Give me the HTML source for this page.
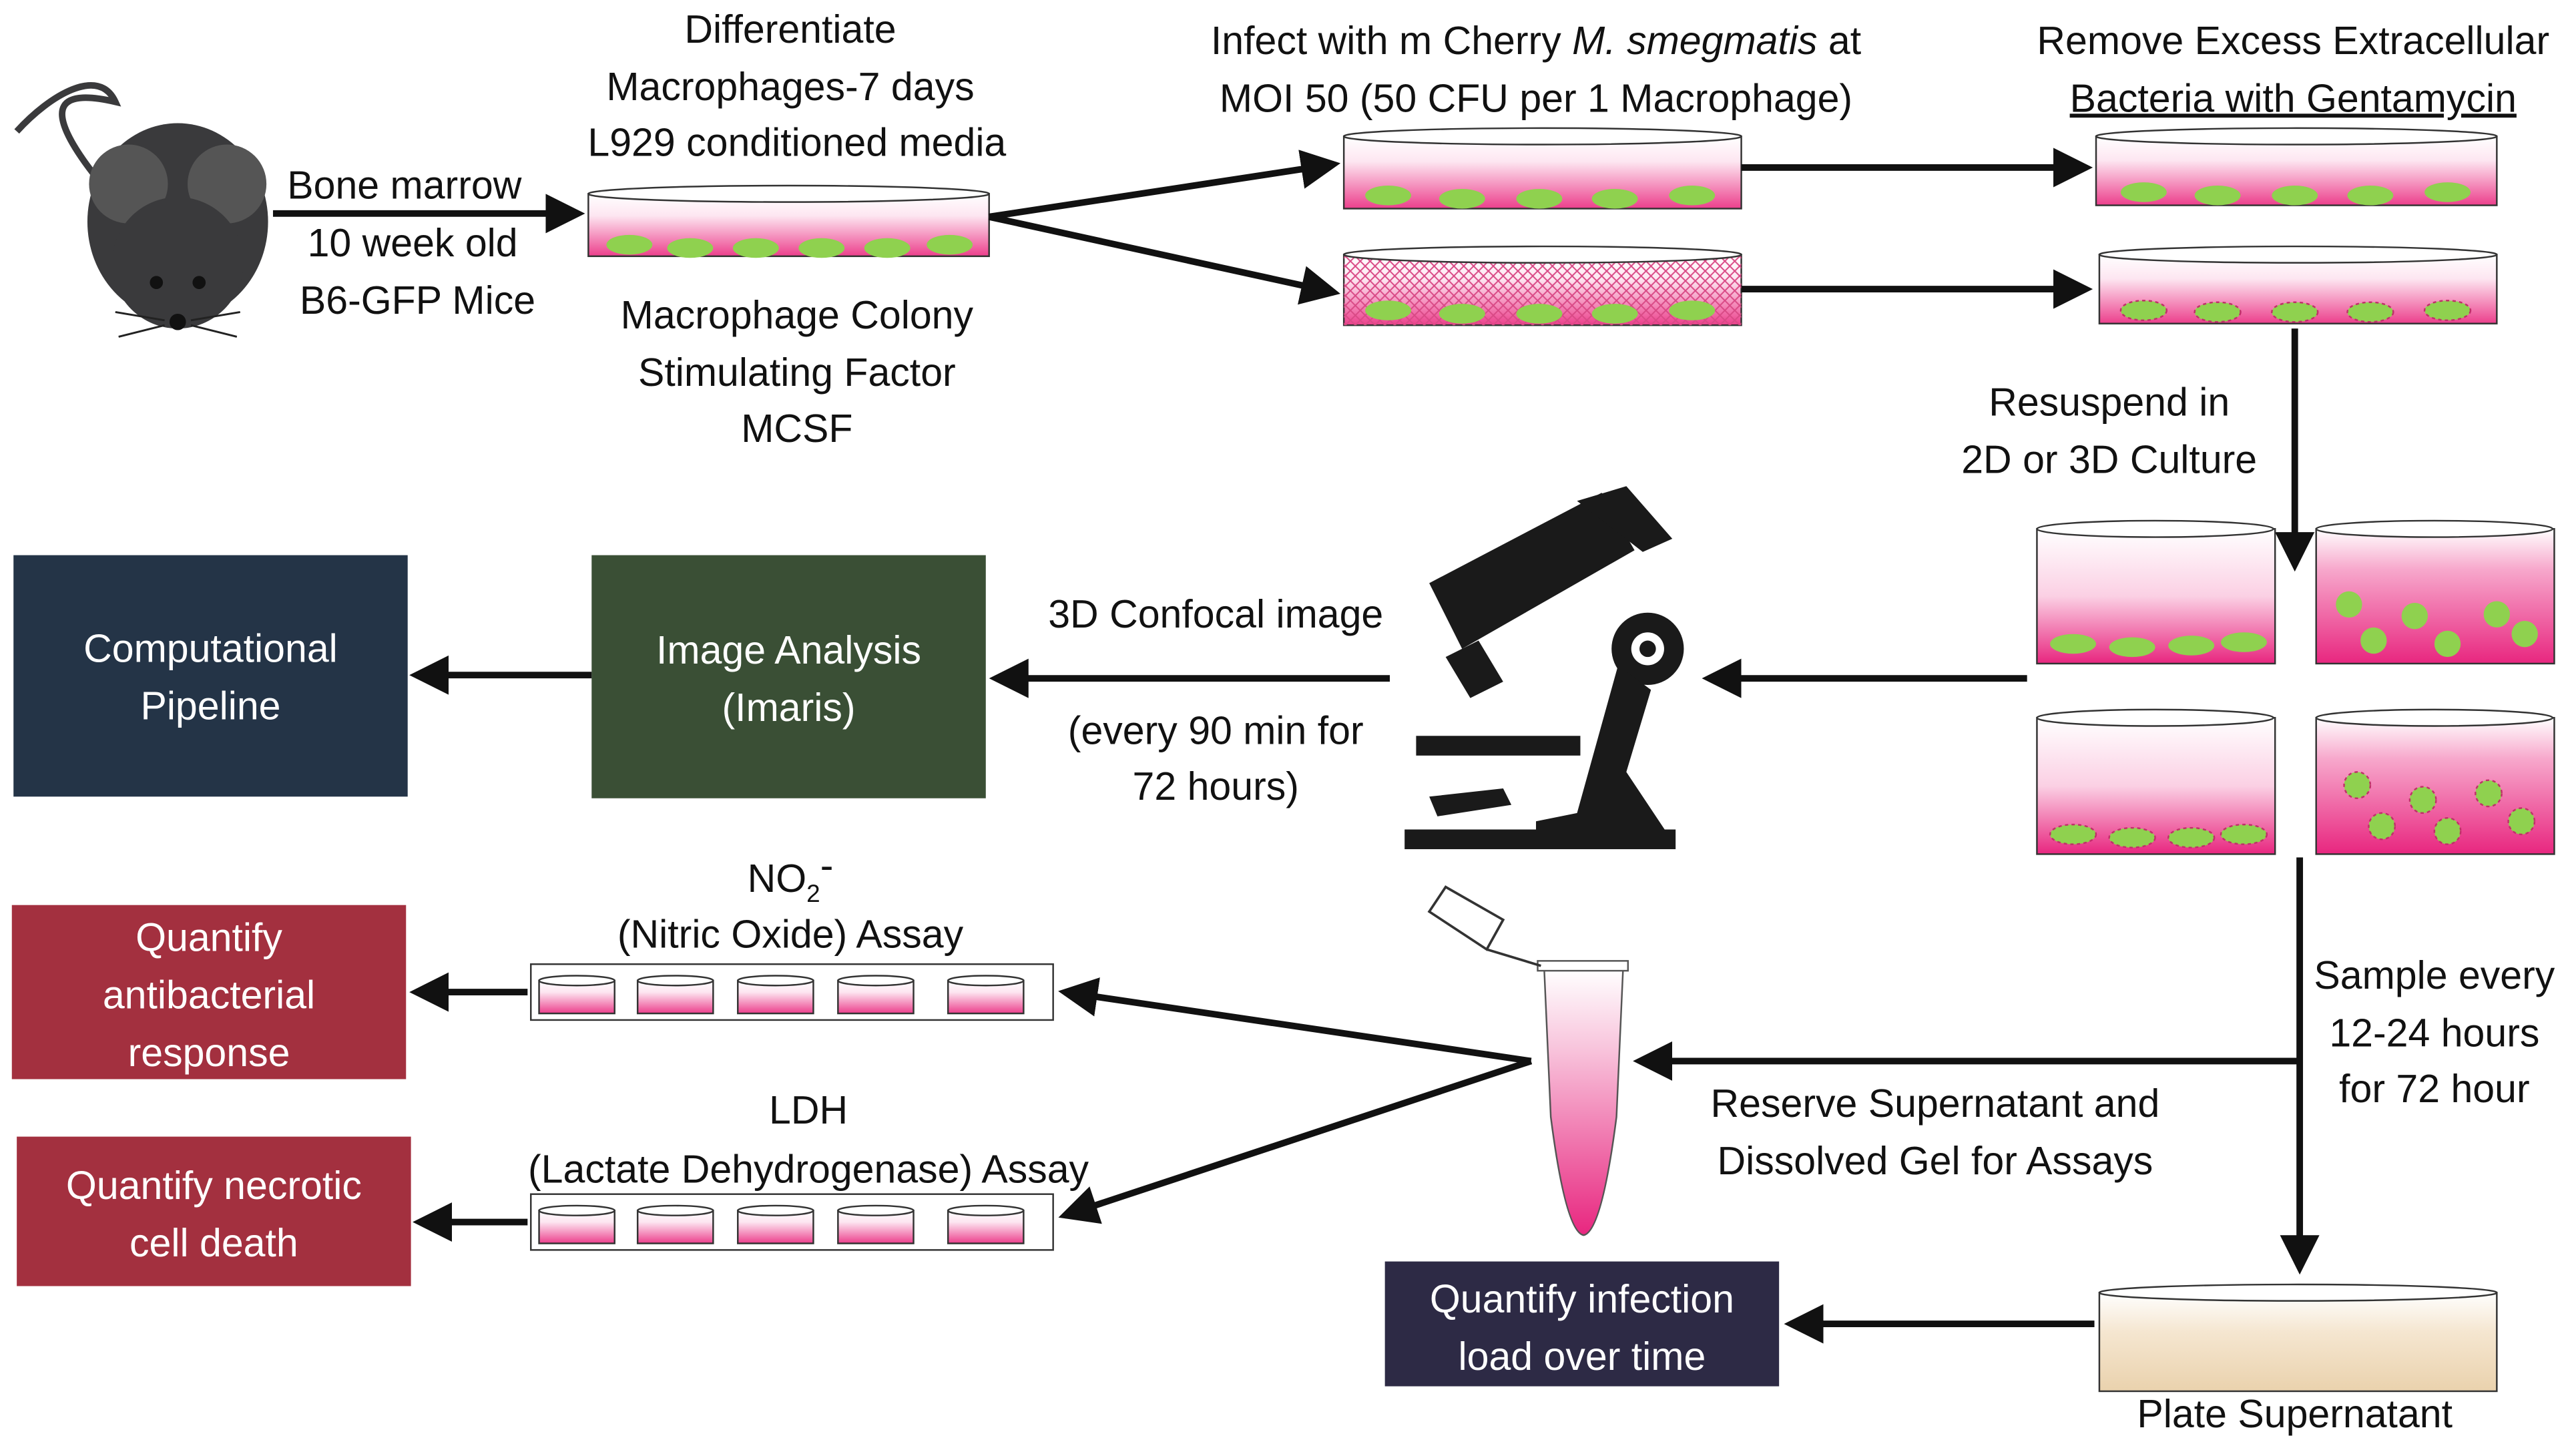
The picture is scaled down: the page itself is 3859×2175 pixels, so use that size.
<!DOCTYPE html>
<html><head><meta charset="utf-8"><style>
html,body{margin:0;padding:0;background:#fff;}
svg{display:block;}
text{font-family:"Liberation Sans",sans-serif;font-size:24px;fill:#111;}
.w{fill:#fff;}
</style></head><body>
<svg width="3859" height="2175" viewBox="0 0 1568 884" xmlns="http://www.w3.org/2000/svg">
<defs>
<linearGradient id="pk" x1="0" y1="0" x2="0" y2="1"><stop offset="0" stop-color="#fff"/><stop offset="0.35" stop-color="#fde6f1"/><stop offset="1" stop-color="#ec3f8c"/></linearGradient>
<linearGradient id="pk2" x1="0" y1="0" x2="0" y2="1"><stop offset="0" stop-color="#fff"/><stop offset="0.5" stop-color="#fbd0e4"/><stop offset="1" stop-color="#e8267f"/></linearGradient>
<linearGradient id="pk3" x1="0" y1="0" x2="0" y2="1"><stop offset="0" stop-color="#fff"/><stop offset="0.3" stop-color="#f7a8cc"/><stop offset="1" stop-color="#e8267f"/></linearGradient>
<linearGradient id="tan" x1="0" y1="0" x2="0" y2="1"><stop offset="0" stop-color="#fff"/><stop offset="0.4" stop-color="#f5e6d0"/><stop offset="1" stop-color="#ead2ad"/></linearGradient>
<linearGradient id="tube" x1="0" y1="0" x2="0" y2="1"><stop offset="0" stop-color="#fff"/><stop offset="0.3" stop-color="#f8c4dc"/><stop offset="1" stop-color="#e8267f"/></linearGradient>
<pattern id="mesh" width="6" height="6" patternUnits="userSpaceOnUse"><path d="M0 3 L3 0 L6 3 L3 6Z" fill="none" stroke="#d94a86" stroke-width="0.8"/></pattern>
<marker id="ah" markerWidth="6" markerHeight="6" refX="5" refY="3" orient="auto" markerUnits="strokeWidth"><path d="M0,0 L6,3 L0,6 Z" fill="#111"/></marker>
</defs>

<!-- Mouse -->
<g fill="#3a3a3c">
<path d="M60 110 C 20 60, 40 55, 70 62 C 60 40, 30 58, 10 80" fill="none" stroke="#3a3a3c" stroke-width="4"/>
<ellipse cx="108" cy="135" rx="55" ry="60"/>
<circle cx="78" cy="112" r="24" fill="#555"/>
<circle cx="138" cy="112" r="24" fill="#555"/>
<ellipse cx="108" cy="160" rx="40" ry="40"/>
<circle cx="108" cy="196" r="5" fill="#111"/>
<circle cx="95" cy="172" r="4" fill="#111"/><circle cx="121" cy="172" r="4" fill="#111"/>
</g>
<g stroke="#222" stroke-width="1.2"><line x1="70" y1="190" x2="100" y2="195"/><line x1="72" y1="205" x2="100" y2="198"/><line x1="146" y1="190" x2="116" y2="195"/><line x1="144" y1="205" x2="116" y2="198"/></g>

<text x="246" y="121" text-anchor="middle">Bone marrow</text>
<text x="251" y="156" text-anchor="middle">10 week old</text>
<text x="254" y="191" text-anchor="middle">B6-GFP Mice</text>
<line x1="166" y1="130" x2="352" y2="130" stroke="#111" stroke-width="4" marker-end="url(#ah)"/>

<text x="481" y="26" text-anchor="middle">Differentiate</text>
<text x="481" y="61" text-anchor="middle">Macrophages-7 days</text>
<text x="485" y="95" text-anchor="middle">L929 conditioned media</text>
<text x="485" y="200" text-anchor="middle">Macrophage Colony</text>
<text x="485" y="235" text-anchor="middle">Stimulating Factor</text>
<text x="485" y="269" text-anchor="middle">MCSF</text>

<!-- dish 1 -->
<g>
<rect x="358" y="118" width="244" height="38" fill="url(#pk)" stroke="#333"/>
<ellipse cx="480" cy="118" rx="122" ry="5" fill="#fff" stroke="#333"/>
<g fill="#8fd14f"><ellipse cx="383" cy="149" rx="14" ry="6"/><ellipse cx="420" cy="151" rx="14" ry="6"/><ellipse cx="460" cy="151" rx="14" ry="6"/><ellipse cx="500" cy="151" rx="14" ry="6"/><ellipse cx="540" cy="151" rx="14" ry="6"/><ellipse cx="578" cy="149" rx="14" ry="6"/></g>
</g>
<line x1="602" y1="132" x2="812" y2="100" stroke="#111" stroke-width="4" marker-end="url(#ah)"/>
<line x1="602" y1="132" x2="812" y2="178" stroke="#111" stroke-width="4" marker-end="url(#ah)"/>

<text x="935" y="33" text-anchor="middle">Infect with m Cherry <tspan font-style="italic">M. smegmatis</tspan> at</text>
<text x="935" y="68" text-anchor="middle">MOI 50 (50 CFU per 1 Macrophage)</text>
<text x="1396" y="33" text-anchor="middle">Remove Excess Extracellular</text>
<text x="1396" y="68" text-anchor="middle" text-decoration="underline">Bacteria with Gentamycin</text>

<!-- dish 2 -->
<rect x="818" y="83" width="242" height="44" fill="url(#pk)" stroke="#333"/>
<ellipse cx="939" cy="83" rx="121" ry="5" fill="#fff" stroke="#333"/>
<g fill="#8fd14f"><ellipse cx="845" cy="119" rx="14" ry="6"/><ellipse cx="890" cy="121" rx="14" ry="6"/><ellipse cx="937" cy="121" rx="14" ry="6"/><ellipse cx="983" cy="121" rx="14" ry="6"/><ellipse cx="1030" cy="119" rx="14" ry="6"/></g>
<!-- dish 3 -->
<rect x="818" y="155" width="242" height="43" fill="url(#pk)" stroke="#333"/>
<rect x="818" y="155" width="242" height="43" fill="url(#mesh)"/>
<ellipse cx="939" cy="155" rx="121" ry="5" fill="#fff" stroke="#333"/>
<g fill="#8fd14f"><ellipse cx="845" cy="189" rx="14" ry="6"/><ellipse cx="890" cy="191" rx="14" ry="6"/><ellipse cx="937" cy="191" rx="14" ry="6"/><ellipse cx="983" cy="191" rx="14" ry="6"/><ellipse cx="1030" cy="189" rx="14" ry="6"/></g>

<line x1="1060" y1="102" x2="1270" y2="102" stroke="#111" stroke-width="4" marker-end="url(#ah)"/>
<line x1="1060" y1="176" x2="1270" y2="176" stroke="#111" stroke-width="4" marker-end="url(#ah)"/>

<!-- dish 4 -->
<rect x="1276" y="83" width="244" height="42" fill="url(#pk)" stroke="#333"/>
<ellipse cx="1398" cy="83" rx="122" ry="5" fill="#fff" stroke="#333"/>
<g fill="#8fd14f"><ellipse cx="1305" cy="117" rx="14" ry="6"/><ellipse cx="1350" cy="119" rx="14" ry="6"/><ellipse cx="1397" cy="119" rx="14" ry="6"/><ellipse cx="1443" cy="119" rx="14" ry="6"/><ellipse cx="1490" cy="117" rx="14" ry="6"/></g>
<!-- dish 5 -->
<rect x="1278" y="155" width="242" height="42" fill="url(#pk)" stroke="#333"/>
<ellipse cx="1399" cy="155" rx="121" ry="5" fill="#fff" stroke="#333"/>
<g fill="#8fd14f" stroke="#c0306a" stroke-dasharray="2 2"><ellipse cx="1305" cy="189" rx="14" ry="6"/><ellipse cx="1350" cy="190" rx="14" ry="6"/><ellipse cx="1397" cy="190" rx="14" ry="6"/><ellipse cx="1443" cy="190" rx="14" ry="6"/><ellipse cx="1490" cy="189" rx="14" ry="6"/></g>

<text x="1284" y="253" text-anchor="middle">Resuspend in</text>
<text x="1284" y="288" text-anchor="middle">2D or 3D Culture</text>
<line x1="1397" y1="200" x2="1397" y2="344" stroke="#111" stroke-width="4" marker-end="url(#ah)"/>

<!-- tall dishes -->
<g stroke="#333">
<rect x="1240" y="322" width="145" height="82" fill="url(#pk2)"/><ellipse cx="1312" cy="322" rx="72" ry="5" fill="#fff"/>
<rect x="1410" y="322" width="145" height="82" fill="url(#pk3)"/><ellipse cx="1482" cy="322" rx="72" ry="5" fill="#fff"/>
<rect x="1240" y="437" width="145" height="83" fill="url(#pk2)"/><ellipse cx="1312" cy="437" rx="72" ry="5" fill="#fff"/>
<rect x="1410" y="437" width="145" height="83" fill="url(#pk3)"/><ellipse cx="1482" cy="437" rx="72" ry="5" fill="#fff"/>
</g>
<g fill="#8fd14f"><ellipse cx="1262" cy="392" rx="14" ry="6"/><ellipse cx="1298" cy="394" rx="14" ry="6"/><ellipse cx="1334" cy="393" rx="14" ry="6"/><ellipse cx="1366" cy="391" rx="14" ry="6"/>
<circle cx="1430" cy="368" r="8"/><circle cx="1470" cy="375" r="8"/><circle cx="1520" cy="374" r="8"/><circle cx="1445" cy="390" r="8"/><circle cx="1490" cy="392" r="8"/><circle cx="1537" cy="386" r="8"/></g>
<g fill="#8fd14f" stroke="#c0306a" stroke-dasharray="2 2"><ellipse cx="1262" cy="508" rx="14" ry="6"/><ellipse cx="1298" cy="510" rx="14" ry="6"/><ellipse cx="1334" cy="510" rx="14" ry="6"/><ellipse cx="1366" cy="508" rx="14" ry="6"/>
<circle cx="1435" cy="478" r="8"/><circle cx="1475" cy="487" r="8"/><circle cx="1515" cy="483" r="8"/><circle cx="1450" cy="503" r="8"/><circle cx="1490" cy="506" r="8"/><circle cx="1535" cy="500" r="8"/></g>

<line x1="1234" y1="413" x2="1040" y2="413" stroke="#111" stroke-width="4" marker-end="url(#ah)"/>

<!-- microscope -->
<g fill="#1a1a1a">
<path d="M870 355 L975 300 L995 335 L890 395 Z"/>
<path d="M960 305 L990 296 L1018 328 L1000 336 Z"/>
<path d="M880 400 L900 390 L915 415 L895 425 Z"/>
<circle cx="1003" cy="395" r="22"/>
<circle cx="1003" cy="395" r="10" fill="#fff"/>
<circle cx="1003" cy="395" r="5"/>
<path d="M985 405 L1005 420 L990 470 L1010 500 L1020 515 L935 515 L935 500 L960 495 Z"/>
<rect x="862" y="448" width="100" height="12"/>
<path d="M870 485 L915 480 L920 490 L875 497 Z"/>
<rect x="855" y="505" width="165" height="12"/>
</g>

<text x="740" y="382" text-anchor="middle">3D Confocal image</text>
<text x="740" y="453" text-anchor="middle">(every 90 min for</text>
<text x="740" y="487" text-anchor="middle">72 hours)</text>
<line x1="846" y1="413" x2="606" y2="413" stroke="#111" stroke-width="4" marker-end="url(#ah)"/>

<rect x="360" y="338" width="240" height="148" fill="#3a4f35"/>
<text x="480" y="404" text-anchor="middle" class="w">Image Analysis</text>
<text x="480" y="439" text-anchor="middle" class="w">(Imaris)</text>
<line x1="360" y1="411" x2="253" y2="411" stroke="#111" stroke-width="4" marker-end="url(#ah)"/>
<rect x="8" y="338" width="240" height="147" fill="#243447"/>
<text x="128" y="403" text-anchor="middle" class="w">Computational</text>
<text x="128" y="438" text-anchor="middle" class="w">Pipeline</text>

<!-- right column vertical -->
<line x1="1400" y1="522" x2="1400" y2="772" stroke="#111" stroke-width="4" marker-end="url(#ah)"/>
<text x="1482" y="602" text-anchor="middle">Sample every</text>
<text x="1482" y="637" text-anchor="middle">12-24 hours</text>
<text x="1482" y="671" text-anchor="middle">for 72 hour</text>
<line x1="1400" y1="646" x2="998" y2="646" stroke="#111" stroke-width="4" marker-end="url(#ah)"/>
<text x="1178" y="680" text-anchor="middle">Reserve Supernatant and</text>
<text x="1178" y="715" text-anchor="middle">Dissolved Gel for Assays</text>

<!-- plate -->
<rect x="1278" y="787" width="242" height="60" fill="url(#tan)" stroke="#333"/>
<ellipse cx="1399" cy="787" rx="121" ry="5" fill="#fff" stroke="#333"/>
<text x="1397" y="869" text-anchor="middle">Plate Supernatant</text>
<line x1="1275" y1="806" x2="1090" y2="806" stroke="#111" stroke-width="4" marker-end="url(#ah)"/>
<rect x="843" y="768" width="240" height="76" fill="#2d2a45"/>
<text x="963" y="799" text-anchor="middle" class="w">Quantify infection</text>
<text x="963" y="834" text-anchor="middle" class="w">load over time</text>

<!-- tube -->
<path d="M940 590 L988 590 L984 680 Q975 750 964 752 Q953 750 944 680 Z" fill="url(#tube)" stroke="#555"/>
<rect x="936" y="585" width="55" height="6" fill="#fff" stroke="#555"/>
<path d="M870 555 L880 540 L915 560 L905 578 Z" fill="#fff" stroke="#333" stroke-width="1.5"/>
<path d="M905 578 L938 588" stroke="#333" stroke-width="1.5"/>

<line x1="932" y1="646" x2="648" y2="604" stroke="#111" stroke-width="4" marker-end="url(#ah)"/>
<line x1="932" y1="646" x2="648" y2="740" stroke="#111" stroke-width="4" marker-end="url(#ah)"/>

<!-- well strips -->
<g stroke="#333">
<rect x="323" y="587" width="318" height="34" fill="#fff"/>
<rect x="323" y="727" width="318" height="34" fill="#fff"/>
</g>
<g stroke="#333" fill="url(#pk)">
<rect x="328" y="597" width="46" height="20"/><rect x="388" y="597" width="46" height="20"/><rect x="449" y="597" width="46" height="20"/><rect x="510" y="597" width="46" height="20"/><rect x="577" y="597" width="46" height="20"/>
<rect x="328" y="737" width="46" height="20"/><rect x="388" y="737" width="46" height="20"/><rect x="449" y="737" width="46" height="20"/><rect x="510" y="737" width="46" height="20"/><rect x="577" y="737" width="46" height="20"/>
</g>
<g fill="#fff" stroke="#333"><ellipse cx="351" cy="597" rx="23" ry="3"/><ellipse cx="411" cy="597" rx="23" ry="3"/><ellipse cx="472" cy="597" rx="23" ry="3"/><ellipse cx="533" cy="597" rx="23" ry="3"/><ellipse cx="600" cy="597" rx="23" ry="3"/>
<ellipse cx="351" cy="737" rx="23" ry="3"/><ellipse cx="411" cy="737" rx="23" ry="3"/><ellipse cx="472" cy="737" rx="23" ry="3"/><ellipse cx="533" cy="737" rx="23" ry="3"/><ellipse cx="600" cy="737" rx="23" ry="3"/></g>

<text x="481" y="543" text-anchor="middle">NO<tspan font-size="15" dy="6">2</tspan><tspan dy="-14">-</tspan></text>
<text x="481" y="577" text-anchor="middle">(Nitric Oxide) Assay</text>
<text x="492" y="684" text-anchor="middle">LDH</text>
<text x="492" y="720" text-anchor="middle">(Lactate Dehydrogenase) Assay</text>

<line x1="321" y1="604" x2="253" y2="604" stroke="#111" stroke-width="4" marker-end="url(#ah)"/>
<line x1="321" y1="744" x2="255" y2="744" stroke="#111" stroke-width="4" marker-end="url(#ah)"/>

<rect x="7" y="551" width="240" height="106" fill="#a3303f"/>
<text x="127" y="579" text-anchor="middle" class="w">Quantify</text>
<text x="127" y="614" text-anchor="middle" class="w">antibacterial</text>
<text x="127" y="649" text-anchor="middle" class="w">response</text>
<rect x="10" y="692" width="240" height="91" fill="#a3303f"/>
<text x="130" y="730" text-anchor="middle" class="w">Quantify necrotic</text>
<text x="130" y="765" text-anchor="middle" class="w">cell death</text>
</svg>
</body></html>
